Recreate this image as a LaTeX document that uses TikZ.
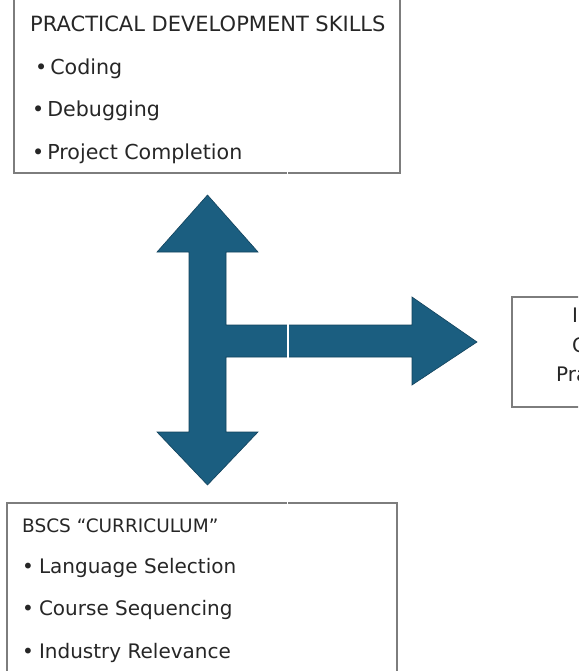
\documentclass[tikz,border=0pt]{standalone}
\usepackage{fontspec}
\setmainfont{DejaVu Sans}
\definecolor{arrowblue}{RGB}{27,94,128}
\definecolor{arrowedge}{RGB}{18,66,92}
\definecolor{boxline}{RGB}{125,125,125}
\begin{document}
\begin{tikzpicture}[x=1pt,y=-1pt,
  txt/.style={anchor=base west, inner sep=0pt, font=\fontsize{20}{24}\selectfont, text=black!85},
  box/.style={draw=boxline, line width=1.2pt, inner sep=0pt}]
\useasboundingbox (0,0) rectangle (578,671);
\clip (0,0) rectangle (578,671);
% boxes (partly beyond the page)
\node[box, minimum width=386pt, minimum height=200pt] (pds) at (207,73) {};
\node[box, minimum width=390pt, minimum height=197pt] (bscs) at (202,601.5) {};
\node[box, minimum width=128pt, minimum height=110pt] (impact) at (576,352) {};
% texts
\node[txt, font=\fontsize{21}{24}\selectfont] (h1) at (30,32) {PRACTICAL DEVELOPMENT SKILLS};
\node[txt, font=\fontsize{20.6}{24}\selectfont] (b1) at (35,75) {•\hspace{3pt}Coding};
\node[txt, font=\fontsize{20.6}{24}\selectfont] (b2) at (32,117) {•\hspace{3pt}Debugging};
\node[txt, font=\fontsize{20.6}{24}\selectfont] (b3) at (32,160) {•\hspace{3pt}Project Completion};
\node[txt, font=\fontsize{18.5}{22}\selectfont] (h2) at (22,532) {BSCS “CURRICULUM”};
\node[txt] (c1) at (22,573) {•\hspace{5pt}Language Selection};
\node[txt] (c2) at (22,615) {•\hspace{5pt}Course Sequencing};
\node[txt] (c3) at (22,658) {•\hspace{5pt}Industry Relevance};
\node[txt] (r1) at (572,322) {I};
\node[txt] (r2) at (572,352) {C};
\node[txt] (r3) at (556,381) {Pra};
% three-way arrow
\filldraw[fill=arrowblue, draw=arrowedge, line width=0.6pt]
  (207.5,195) -- (258,252) -- (226,252) -- (226,325) -- (412,325) -- (412,297)
  -- (477,342) -- (412,385) -- (412,357) -- (226,357) -- (226,432) -- (258,432)
  -- (207.5,485) -- (157,432) -- (189,432) -- (189,252) -- (157,252) -- cycle;
% thin seams
\draw[white, line width=1.5pt] (288,324) -- (288,358);
\draw[white, line width=1.5pt] (287.5,171) -- (287.5,175);
\draw[white, line width=1.5pt] (287.5,501) -- (287.5,505);
\end{tikzpicture}
\end{document}
